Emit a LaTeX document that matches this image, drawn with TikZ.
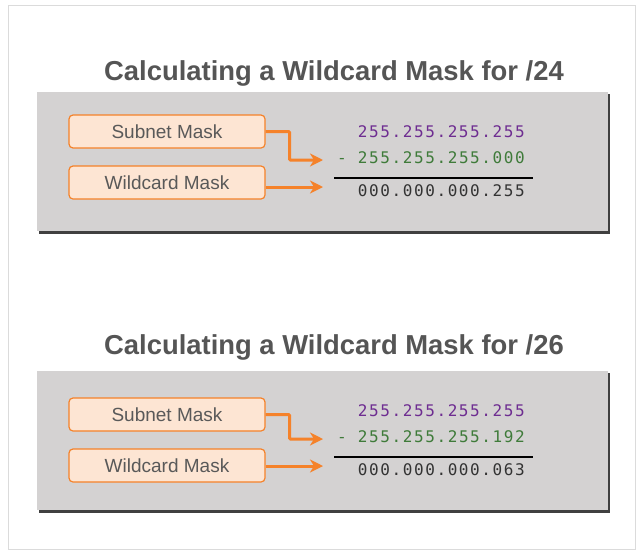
\documentclass[tikz,border=0pt]{standalone}
\usepackage{fontspec}
\setmainfont{Liberation Sans}
\newfontfamily\numfont[LetterSpace=10]{DejaVu Sans Mono}
\usetikzlibrary{arrows.meta,positioning}

\definecolor{panelgray}{HTML}{D4D2D2}
\definecolor{maskorange}{HTML}{F5822A}
\definecolor{maskfill}{HTML}{FDE5D3}
\definecolor{titlegray}{HTML}{555555}
\definecolor{textgray}{HTML}{595959}
\definecolor{onespurple}{HTML}{6E2D91}
\definecolor{netgreen}{HTML}{3F7B3A}
\definecolor{resultgray}{HTML}{333333}

\begin{document}
\begin{tikzpicture}[
x=1pt, y=-1pt,
panel/.style={
  fill=panelgray,
  draw=none
  },
mask/.style={
  draw=maskorange,
  fill=maskfill,
  line width=1.2pt,
  rounded corners=4pt,
  minimum width=196pt,
  minimum height=33pt,
  text=textgray,
  font=\fontsize{19}{21}\selectfont
  },
title/.style={
  text=titlegray,
  font=\fontsize{27.4}{30}\selectfont\bfseries
  },
num/.style={
  anchor=east,
  inner sep=0pt,
  font=\numfont\fontsize{16}{18}\selectfont
  },
arr/.style={
  draw=maskorange,
  line width=3pt,
  -{Stealth[length=13pt,width=13pt,inset=4pt]}
  }
]

\useasboundingbox (0,0) rectangle (644,554);
\draw[draw=black!14] (8,5) rectangle (635,549);

\foreach \i/\dt/\dy/\db/\net/\last/\wc in {1/0/0/0/24/000/255, 2/274/279/283/26/192/063}
{
  % panel with shadow
  \fill[black!75] (39,\dy+94) rectangle (610,\dy+233.5);
  \fill[panel] (37,\dy+92) rectangle (608,\dy+231);

  \node[title] (title\i) at (334,\dt+73) {Calculating a Wildcard Mask for /\net};

  \node[mask] (sub\i) at (167,\db+131.5) {Subnet Mask};
  \node[mask] (wild\i) at (167,\db+182.5) {Wildcard Mask};

  \node[num, text=onespurple] (ones\i) at (525,\dy+132) {255.255.255.255};
  \node[num, text=netgreen] (snm\i) at (525,\dy+158) {- 255.255.255.\last};
  \node[num, text=resultgray] (res\i) at (525,\dy+191) {000.000.000.\wc};

  \coordinate (rulea\i) at (334,\dy+178);
  \coordinate (ruleb\i) at (533,\dy+178);
  \draw[line width=2pt] (rulea\i) -- (ruleb\i);

  \coordinate (tipa\i) at (323,\dy+160);
  \coordinate (tipb\i) at (323,\dy+187);
  \draw[arr, rounded corners=1pt] (sub\i.east) -- ++(24,0) |- (tipa\i);
  \draw[arr] (wild\i.east |- tipb\i) -- (tipb\i);
}

\end{tikzpicture}
\end{document}
